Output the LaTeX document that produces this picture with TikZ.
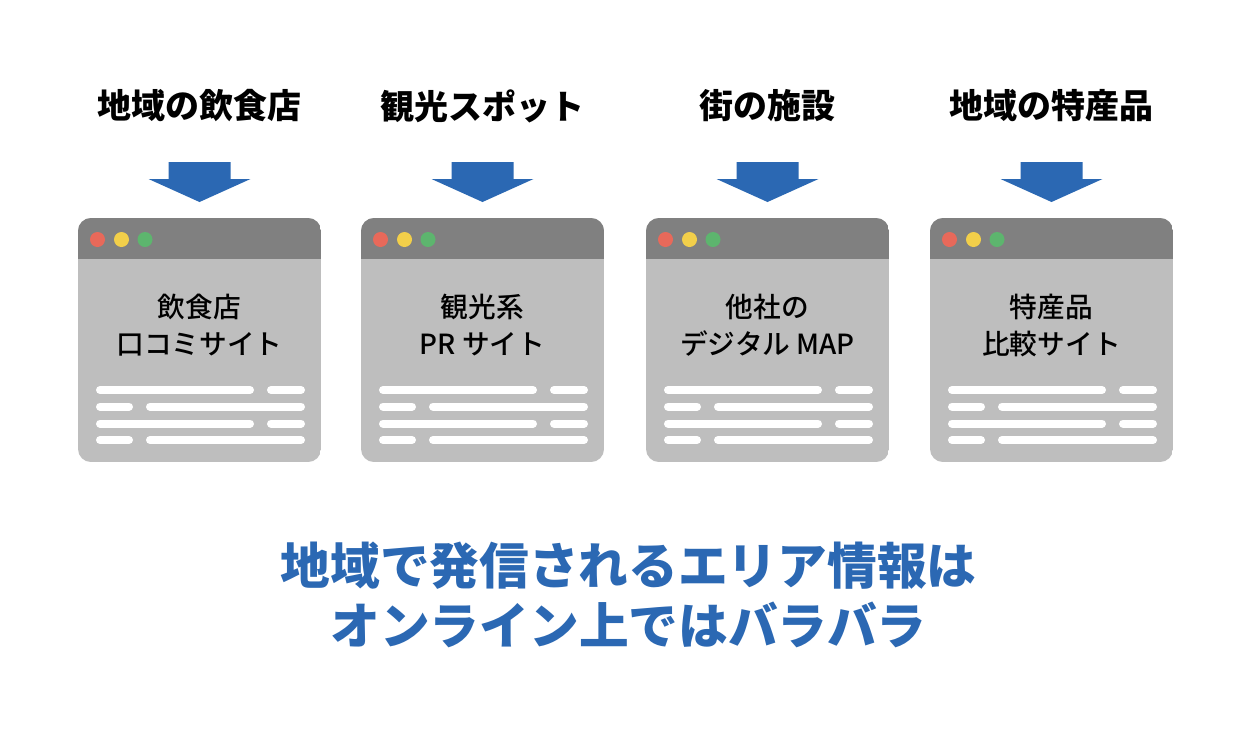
\documentclass[tikz,border=0pt]{standalone}
\usepackage{fontspec}
\newfontfamily\jpfont{Noto Sans CJK JP}
\newfontfamily\jpmedium{Noto Sans CJK JP Medium}
\definecolor{infoblue}{HTML}{2B68B3}
\definecolor{titlegray}{HTML}{808080}
\definecolor{pagegray}{HTML}{BEBEBE}
\definecolor{dotred}{HTML}{E8695A}
\definecolor{dotyellow}{HTML}{F2CF4A}
\definecolor{dotgreen}{HTML}{5DB56E}
\tikzset{
  headline/.style={font=\jpfont\bfseries\fontsize{34}{34}\selectfont},
  sitename/.style={align=center,font=\jpmedium\fontsize{27.7}{37}\selectfont},
  textbar/.style={white,line width=8pt,line cap=round}
}
\begin{document}
\begin{tikzpicture}[x=1pt,y=-1pt]
  \useasboundingbox[fill=white] (0,0) rectangle (1246,729);
  \foreach \n/\cx/\head/\lineA/\lineB in {1/199.5/地域の飲食店/飲食店/口コミサイト,
      2/482.5/観光スポット/観光系/{PR サイト},
      3/767.5/街の施設/他社の/{デジタル MAP},
      4/1051.5/地域の特産品/特産品/比較サイト}{
    \node[headline] (head\n) at (\cx,106) {\head};
    \fill[infoblue] (\cx-31,162) -- (\cx+31,162) -- (\cx+31,179) -- (\cx+51,179)
      -- (\cx,202) -- (\cx-51,179) -- (\cx-31,179) -- cycle;
    \begin{scope}
      \clip[rounded corners=13pt] (\cx-121.5,218) rectangle (\cx+121.5,462);
      \fill[pagegray] (\cx-121.5,218) rectangle (\cx+121.5,462);
      \fill[titlegray] (\cx-121.5,218) rectangle (\cx+121.5,259);
    \end{scope}
    \fill[dotred] (\cx-102,239.5) circle (7.5);
    \fill[dotyellow] (\cx-78,239.5) circle (7.5);
    \fill[dotgreen] (\cx-54.5,239.5) circle (7.5);
    \node[sitename] (site\n) at (\cx,325) {\lineA\\\lineB};
    \foreach \y in {390,423.5}{
      \draw[textbar] (\cx-99.5,\y) -- (\cx+50.5,\y);
      \draw[textbar] (\cx+71.5,\y) -- (\cx+101.5,\y);
    }
    \foreach \y in {406.5,440}{
      \draw[textbar] (\cx-99.5,\y) -- (\cx-70.5,\y);
      \draw[textbar] (\cx-49.5,\y) -- (\cx+101.5,\y);
    }
  }
  \node[align=center,text=infoblue,font=\jpfont\bfseries\fontsize{49.7}{60}\selectfont]
    (summary) at (628.5,595) {地域で発信されるエリア情報は\\オンライン上ではバラバラ};
\end{tikzpicture}
\end{document}
